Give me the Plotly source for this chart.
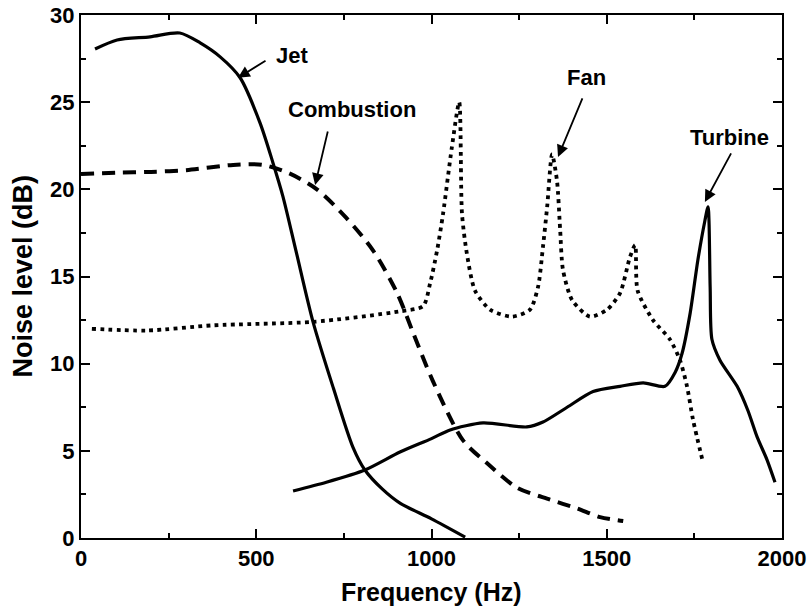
import plotly.graph_objects as go

# ---- data ----
jet_x = [40, 103, 197, 282, 340, 397, 454, 511, 548, 576, 613, 662, 720, 776, 810, 860, 910, 1000, 1096]
jet_y = [28.05, 28.57, 28.75, 28.97, 28.4, 27.6, 26.4, 23.8, 21.5, 19.6, 16.5, 12.4, 8.6, 5.2, 3.9, 2.8, 2.0, 1.1, 0.05]

comb_x = [0, 100, 200, 300, 434, 519, 596, 673, 755, 833, 902, 947, 1004, 1090, 1158, 1243, 1338, 1415, 1481, 1547]
comb_y = [20.88, 20.95, 21.0, 21.1, 21.4, 21.4, 20.9, 20.0, 18.4, 16.5, 14.05, 11.8, 9.0, 5.6, 4.3, 2.9, 2.2, 1.7, 1.2, 0.97]

fan_x = [31, 188, 377, 662, 910, 976, 996, 1016, 1033, 1058, 1079, 1087, 1101, 1124, 1167, 1230, 1281,
         1304, 1318, 1330, 1344, 1358, 1367, 1375, 1401, 1452, 1501, 1538, 1566, 1581, 1588, 1632,
         1680, 1709, 1729, 1746, 1775]
fan_y = [12.0, 11.9, 12.2, 12.4, 13.0, 13.3, 14.6, 16.5, 18.6, 22.4, 25.0, 18.6, 16.3, 14.2, 13.1, 12.7, 13.1,
         14.4, 16.7, 19.0, 22.0, 20.5, 17.7, 15.4, 13.65, 12.7, 13.1, 14.05, 16.1, 16.8, 14.2, 12.5,
         11.4, 10.2, 8.7, 6.8, 4.3]

turb_x = [605, 700, 810, 910, 1000, 1053, 1147, 1272, 1318, 1387, 1461, 1538, 1604, 1666, 1695, 1715,
          1738, 1760, 1780, 1789, 1795, 1800, 1823, 1872, 1903, 1929, 1957, 1980]
turb_y = [2.7, 3.2, 3.9, 4.93, 5.7, 6.2, 6.6, 6.37, 6.65, 7.5, 8.4, 8.7, 8.9, 8.7, 9.5, 10.6,
          12.9, 15.95, 18.2, 19.0, 14.4, 11.4, 10.2, 8.7, 7.3, 5.8, 4.5, 3.2]

x_range = [0, 2000]
y_range = [0, 30]
x_step, x_minor_step = 500, 250
y_step, y_minor_step = 5, 2.5

labels = ["Jet", "Combustion", "Fan", "Turbine"]
# arrow heads (data coords) and label centres (data coords)
head_x = [448, 668, 1361, 1780]
head_y = [26.4, 20.25, 21.86, 19.28]
text_x = [602, 773, 1441, 1849]
text_y = [27.7, 24.56, 26.4, 22.95]
arrow_ax = [29, 13, 25, 27]
arrow_ay = [-18, -55, -60, -50]

FONT = "Liberation Sans, Arial, sans-serif"

fig = go.Figure()
fig.add_trace(go.Scatter(x=jet_x, y=jet_y, mode="lines", name="Jet",
                         line=dict(color="black", width=3.2, shape="spline", smoothing=0.8)))
fig.add_trace(go.Scatter(x=comb_x, y=comb_y, mode="lines", name="Combustion",
                         line=dict(color="black", width=4, dash="13px,8px", shape="spline", smoothing=0.8)))
fig.add_trace(go.Scatter(x=fan_x, y=fan_y, mode="lines", name="Fan",
                         line=dict(color="black", width=3.8, dash="3.8px,4.4px", shape="spline", smoothing=0.7)))
fig.add_trace(go.Scatter(x=turb_x, y=turb_y, mode="lines", name="Turbine",
                         line=dict(color="black", width=3.2, shape="spline", smoothing=0.7)))

for i, lab in enumerate(labels):
    fig.add_annotation(x=head_x[i], y=head_y[i], text="", showarrow=True,
                       ax=arrow_ax[i], ay=arrow_ay[i], arrowhead=2, arrowsize=1.3,
                       arrowwidth=1.8, arrowcolor="black")
    fig.add_annotation(x=text_x[i], y=text_y[i], text=lab, showarrow=False,
                       font=dict(family=FONT, size=22, color="black", weight="bold"))

axis_common = dict(showline=True, linecolor="black", linewidth=2, mirror="ticks",
                   ticks="inside", ticklen=9, tickwidth=2, tickcolor="black",
                   showgrid=False, zeroline=False, automargin=False,
                   ticklabeloverflow="allow", tickmode="linear", tick0=0,
                   tickfont=dict(family=FONT, size=22, color="black", weight="bold"))

fig.update_xaxes(range=x_range, dtick=x_step,
                 minor=dict(dtick=x_minor_step, tick0=0, ticks="inside", ticklen=5, tickwidth=2, tickcolor="black"),
                 **axis_common)
fig.update_yaxes(range=y_range, dtick=y_step,
                 minor=dict(dtick=y_minor_step, tick0=0, ticks="inside", ticklen=5, tickwidth=2, tickcolor="black"),
                 **axis_common)

# axis titles as paper-anchored annotations for exact placement
fig.add_annotation(text="Frequency (Hz)", xref="paper", yref="paper", x=0.5, y=0,
                   yshift=-54, yanchor="middle", showarrow=False,
                   font=dict(family=FONT, size=25, color="black", weight="bold"))
fig.add_annotation(text="Noise level (dB)", xref="paper", yref="paper", x=0, y=0.5,
                   xshift=-59, xanchor="center", textangle=-90, showarrow=False,
                   font=dict(family=FONT, size=27, color="black", weight="bold"))

fig.update_layout(width=807, height=612, margin=dict(l=81, r=25, t=15, b=74),
                  plot_bgcolor="white", paper_bgcolor="white", showlegend=False)

# remove the default page margin so the figure fills the window exactly; hide the modebar
fig.write_html("out.html", config={"displayModeBar": False},
               post_script="document.body.style.margin='0';document.body.style.overflow='hidden';")
